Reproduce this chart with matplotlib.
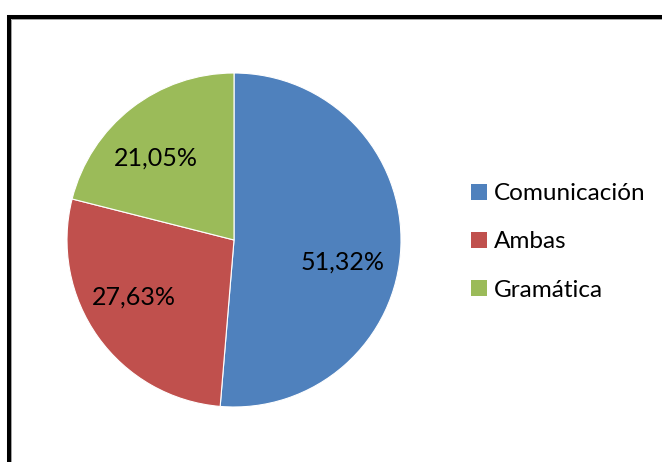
import matplotlib
matplotlib.use("Agg")
import matplotlib.pyplot as plt
from matplotlib.patches import Patch
from matplotlib.lines import Line2D

categories = ["Comunicación", "Ambas", "Gramática"]
values = [51.32, 27.63, 21.05]
colors = ["#4F81BD", "#C0504D", "#9BBB59"]

plt.rcParams["font.family"] = ["Lato", "DejaVu Sans"]

W, H = 662, 462
fig = plt.figure(figsize=(W / 100, H / 100), dpi=100)
fig.patch.set_facecolor("white")

# pie axes: centre (234, 240) px, radius 167 px
cx, cy, r = 234, 240, 167
ax = fig.add_axes([(cx - r) / W, (H - cy - r) / H, 2 * r / W, 2 * r / H])
wedges, texts, autotexts = ax.pie(
    values, colors=colors, startangle=90, counterclock=False,
    autopct=lambda p: f"{p:.2f}%".replace(".", ","), pctdistance=0.67,
    wedgeprops=dict(edgecolor="white", linewidth=0.8),
    textprops=dict(fontsize=18, color="black"))
ax.set_xlim(-1, 1)
ax.set_ylim(-1, 1)
ax.set_aspect("equal")
ax.axis("off")

# Excel-style label placement
label_pos = [(0.65, -0.13), (-0.60, -0.34), (-0.47, 0.49)]
for t, p in zip(autotexts, label_pos):
    t.set_position(p)

handles = [Patch(facecolor=c, edgecolor="none") for c in colors]
fig.legend(handles, categories, loc="center left",
           bbox_to_anchor=(449 / W, 1 - 242 / H), frameon=False,
           fontsize=17.5, handlelength=0.65, handleheight=0.65,
           handletextpad=0.3, labelspacing=1.12)

# chart border (black frame with thin grey inner line)
kw = dict(transform=fig.transFigure, solid_capstyle="butt")
fig.add_artist(Line2D([6.5 / W, 1], [1 - 16.5 / H, 1 - 16.5 / H], color="black",
                      linewidth=2.9, **kw))
fig.add_artist(Line2D([9 / W, 9 / W], [0, 1 - 14.5 / H], color="black",
                      linewidth=2.9, **kw))
fig.add_artist(Line2D([11 / W, 1], [1 - 18.8 / H, 1 - 18.8 / H], color="#A0A0A0",
                      linewidth=0.7, **kw))
fig.add_artist(Line2D([11.3 / W, 11.3 / W], [0, 1 - 18.8 / H], color="#A0A0A0",
                      linewidth=0.7, **kw))

fig.savefig("out.png", dpi=100)
